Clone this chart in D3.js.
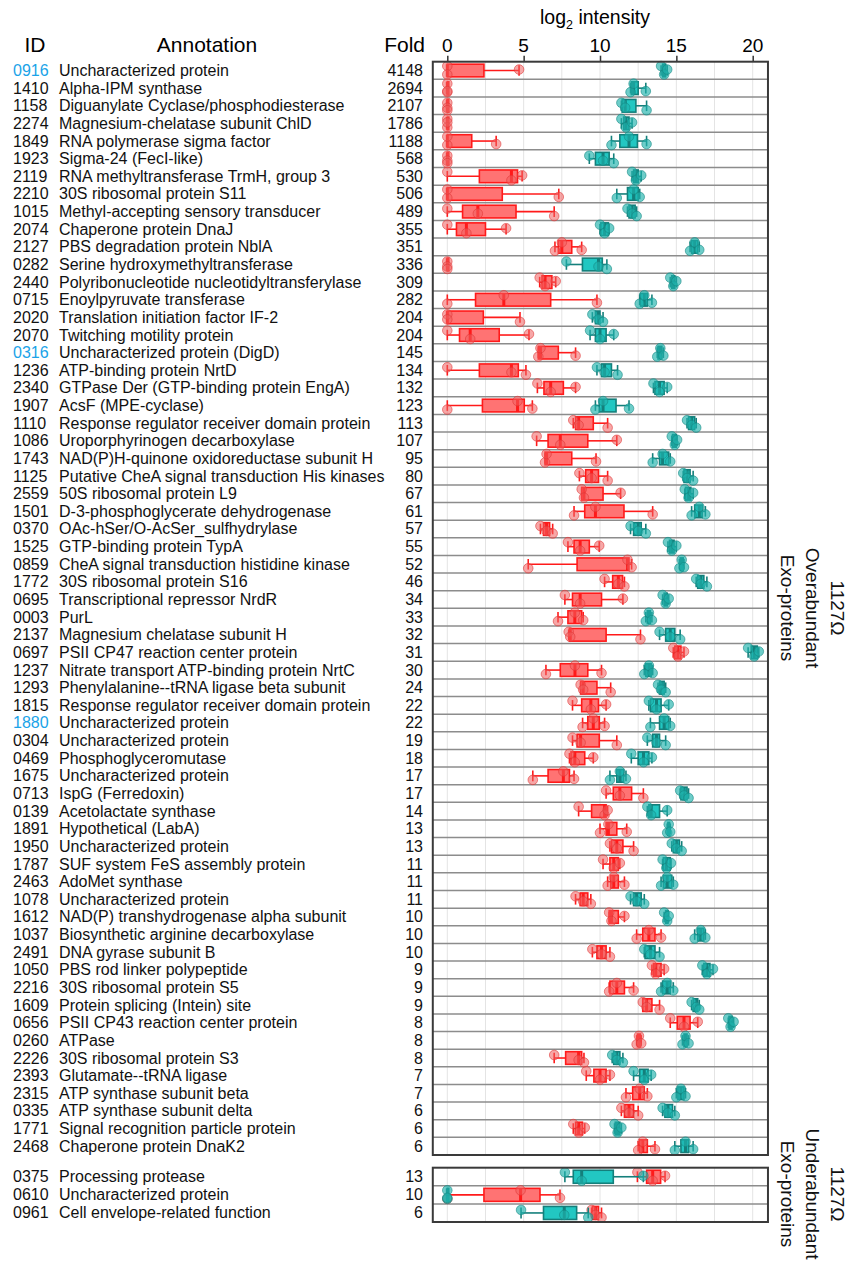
<!DOCTYPE html>
<html>
<head>
<meta charset="utf-8">
<script src="https://cdn.jsdelivr.net/npm/d3@7"></script>
<style>
  body { margin: 0; background: #fff; }
  svg { font-family: Arial, "Liberation Sans", sans-serif; }
</style>
</head>
<body>
<svg id="chart" width="850" height="1265"></svg>
<script>
// over-abundant exo-proteins (top panel)
const ids = ['0916','1410','1158','2274','1849','1923','2119','2210','1015','2074','2127','0282','2440','0715','2020','2070','0316','1236','2340','1907','1110','1086','1743','1125','2559','1501','0370','1525','0859','1772','0695','0003','2137','0697','1237','1293','1815','1880','0304','0469','1675','0713','0139','1891','1950','1787','2463','1078','1612','1037','2491','1050','2216','1609','0656','0260','2226','2393','2315','0335','1771','2468']
const annotations = ['Uncharacterized protein','Alpha-IPM synthase','Diguanylate Cyclase/phosphodiesterase','Magnesium-chelatase subunit ChlD','RNA polymerase sigma factor','Sigma-24 (FecI-like)','RNA methyltransferase TrmH, group 3','30S ribosomal protein S11','Methyl-accepting sensory transducer','Chaperone protein DnaJ','PBS degradation protein NblA','Serine hydroxymethyltransferase','Polyribonucleotide nucleotidyltransferylase','Enoylpyruvate transferase','Translation initiation factor IF-2','Twitching motility protein','Uncharacterized protein (DigD)','ATP-binding protein NrtD','GTPase Der (GTP-binding protein EngA)','AcsF (MPE-cyclase)','Response regulator receiver domain protein','Uroporphyrinogen decarboxylase','NAD(P)H-quinone oxidoreductase subunit H','Putative CheA signal transduction His kinases','50S ribosomal protein L9','D-3-phosphoglycerate dehydrogenase','OAc-hSer/O-AcSer_sulfhydrylase','GTP-binding protein TypA','CheA signal transduction histidine kinase','30S ribosomal protein S16','Transcriptional repressor NrdR','PurL','Magnesium chelatase subunit H','PSII CP47 reaction center protein','Nitrate transport ATP-binding protein NrtC','Phenylalanine--tRNA ligase beta subunit','Response regulator receiver domain protein','Uncharacterized protein','Uncharacterized protein','Phosphoglyceromutase','Uncharacterized protein','IspG (Ferredoxin)','Acetolactate synthase','Hypothetical (LabA)','Uncharacterized protein','SUF system FeS assembly protein','AdoMet synthase','Uncharacterized protein','NAD(P) transhydrogenase alpha subunit','Biosynthetic arginine decarboxylase','DNA gyrase subunit B','PBS rod linker polypeptide','30S ribosomal protein S5','Protein splicing (Intein) site','PSII CP43 reaction center protein','ATPase','30S ribosomal protein S3','Glutamate--tRNA ligase','ATP synthase subunit beta','ATP synthase subunit delta','Signal recognition particle protein','Chaperone protein DnaK2']
const folds = [4148,2694,2107,1786,1188,568,530,506,489,355,351,336,309,282,204,204,145,134,132,123,113,107,95,80,67,61,57,55,52,46,34,33,32,31,30,24,22,22,19,18,17,17,14,13,13,11,11,11,10,10,10,9,9,9,8,8,8,7,7,6,6,6]

// [min, q1, median, q3, max] log2 intensity
const redStats = [
  [0,0,0,2.4,4.7],[0,0,0,0,0],[0,0,0,0,0],[0,0,0,0,0],[0,0,0,1.6,3.2],
  [0,0,0,0,0],[0,2.1,4.2,4.6,4.9],[0,0,0,3.6,7.3],[0,1.0,2.0,4.5,7.0],[0,0.6,1.25,2.5,3.85],
  [7.05,7.27,7.5,8.15,8.8],[0,0,0,0,0],[6.05,6.2,6.4,6.85,7.1],[0,1.85,3.7,6.77,9.8],[0,0,0,2.36,4.76],
  [0,0.8,1.5,3.4,5.35],[5.96,5.96,6.1,7.27,8.4],[0,2.1,4.2,4.65,5.15],[5.9,6.33,6.77,7.6,8.4],[0,2.3,4.6,5.04,5.57],
  [8.25,8.4,8.6,9.56,10.5],[5.85,6.6,7.4,9.2,11.1],[6.4,6.4,6.5,8.15,9.74],[8.65,9.06,9.45,9.9,10.5],[8.8,8.8,8.95,10.2,11.35],
  [8.3,9.0,9.7,11.57,13.45],[6.1,6.3,6.5,6.7,6.9],[7.9,8.3,8.7,9.3,9.95],[5.3,8.5,11.8,11.9,12.07],[10.3,10.83,11.2,11.48,11.6],
  [7.7,8.2,8.7,10.1,11.5],[7.25,7.9,8.35,8.8,8.9],[7.95,8.0,8.05,10.4,12.65],[14.8,14.9,15.1,15.3,15.5],[6.46,7.4,8.36,9.2,10.1],
  [8.73,8.73,8.9,9.8,10.7],[8.2,8.8,9.4,9.9,10.4],[8.86,9.2,9.56,9.95,10.3],[8.2,8.5,8.73,9.95,11.1],[8.0,8.1,8.35,9.0,9.56],
  [5.6,6.6,7.6,8.0,8.3],[10.4,10.87,11.3,12.07,12.84],[8.6,9.45,10.3,10.4,10.5],[10.0,10.4,10.55,11.1,11.75],[10.65,10.75,11.1,11.5,12.2],
  [10.2,10.65,10.9,11.2,11.3],[10.5,10.7,10.9,11.2,11.6],[8.4,8.7,8.9,9.2,9.4],[10.6,10.6,10.75,11.2,11.6],[12.4,12.8,13.2,13.6,14.0],
  [9.5,9.8,10.1,10.4,10.65],[13.4,13.5,13.65,14.0,14.2],[10.6,10.65,11.1,11.6,12.2],[12.8,12.8,13.05,13.4,13.9],[14.6,15.06,15.5,15.9,16.4],
  [12.4,12.45,12.55,12.65,12.7],[7.0,7.75,8.6,8.8,8.95],[9.1,9.6,10.0,10.4,10.65],[11.7,12.14,12.6,12.9,13.1],[11.4,11.6,11.9,12.2,12.5],
  [8.25,8.4,8.6,8.85,9.0],[12.5,12.6,12.8,13.1,13.6]
]
const tealStats = [
  [14.0,14.1,14.2,14.3,14.4],[12.0,12.05,12.2,12.5,13.0],[11.4,11.45,11.65,12.35,13.05],[11.4,11.55,11.7,11.9,12.1],[10.75,11.3,11.9,12.45,13.05],
  [9.3,9.7,10.2,10.6,10.9],[12.1,12.2,12.35,12.5,12.7],[11.1,11.8,12.2,12.5,12.6],[11.8,11.9,12.1,12.3,12.4],[10.0,10.05,10.3,10.55,10.6],
  [15.9,16.0,16.2,16.4,16.5],[7.8,8.85,9.9,10.15,10.45],[14.6,14.7,14.8,14.9,15.0],[12.6,12.65,12.9,13.1,13.4],[9.5,9.7,9.9,10.0,10.2],
  [9.35,9.7,10.0,10.4,10.9],[13.75,13.8,13.95,14.05,14.15],[9.8,10.1,10.3,10.75,11.15],[13.5,13.6,13.9,14.2,14.4],[9.7,9.95,10.2,11.05,11.9],
  [15.7,15.8,16.0,16.2,16.3],[14.7,14.75,14.9,15.0,15.05],[13.45,13.9,14.1,14.5,14.6],[15.45,15.5,15.7,15.9,16.1],[15.55,15.6,15.8,15.95,16.1],
  [16.0,16.2,16.5,16.7,16.9],[12.0,12.2,12.5,12.7,13.0],[14.45,14.55,14.7,14.85,15.0],[15.2,15.25,15.35,15.45,15.5],[16.3,16.4,16.6,16.8,17.0],
  [14.1,14.2,14.3,14.4,14.5],[13.0,13.1,13.2,13.3,13.4],[13.9,14.3,14.6,14.9,15.25],[19.7,19.9,20.1,20.3,20.4],[12.9,13.0,13.2,13.35,13.45],
  [13.8,13.9,14.0,14.2,14.3],[13.2,13.3,13.7,14.0,14.5],[13.3,13.9,14.2,14.5,14.6],[13.1,13.45,13.7,13.9,14.3],[12.05,12.5,12.85,13.2,13.4],
  [10.65,11.1,11.3,11.55,11.7],[15.25,15.3,15.5,15.7,15.8],[13.1,13.2,13.35,13.9,14.4],[14.4,14.45,14.5,14.55,14.6],[14.7,14.8,15.0,15.2,15.35],
  [14.1,14.15,14.35,14.6,14.65],[14.0,14.15,14.4,14.7,14.8],[12.0,12.2,12.4,12.7,12.9],[14.2,14.3,14.4,14.45,14.5],[16.2,16.4,16.6,16.8,16.9],
  [12.9,12.95,13.3,13.6,13.9],[16.7,16.8,17.0,17.2,17.4],[14.0,14.1,14.4,14.6,14.8],[16.0,16.1,16.3,16.4,16.5],[18.4,18.45,18.55,18.65,18.75],
  [15.4,15.5,15.6,15.7,15.8],[10.8,10.9,11.1,11.3,11.5],[12.2,12.6,12.9,13.15,13.35],[15.0,15.1,15.3,15.5,15.6],[14.1,14.25,14.45,14.75,14.9],
  [10.95,11.0,11.15,11.3,11.4],[14.9,15.3,15.6,15.8,16.1]
]

// under-abundant exo-proteins (bottom panel)
const underIds = ['0375','0610','0961']
const underAnnotations = ['Processing protease','Uncharacterized protein','Cell envelope-related function']
const underFolds = [13,10,6]
const underRed = [[12.45,13.05,13.45,13.97,14.26],[0,2.4,4.8,6.07,7.38],[9.45,9.5,9.7,9.9,10.1]]
const underTeal = [[7.7,8.25,8.8,10.87,12.84],[0,0,0,0,0],[4.83,6.3,7.66,8.47,9.23]]

const blueIds = ['0916','0316','1880']
const xTicks = [0,5,10,15,20]

const svg = d3.select('#chart')
const x = d3.scaleLinear().domain([0, 20]).range([447.3, 752.7])
const frameL = x(-0.95), frameR = x(21)

const topRows = d3.range(ids.length)
const yTop = d3.scaleBand().domain(topRows).range([61.7, 1155])
const botRows = d3.range(underIds.length)
const yBot = d3.scaleBand().domain(botRows).range([1167.7, 1222])

const red = { fill: '#ff7373', stroke: '#ff1a1a', dot: 'rgba(240,95,95,0.55)', dotStroke: 'rgba(225,55,55,0.65)' }
const teal = { fill: '#22c7c2', stroke: '#147f7b', dot: 'rgba(30,178,172,0.65)', dotStroke: 'rgba(20,135,130,0.65)' }

// header
const title = svg.append('text')
  .attr('x', 595).attr('y', 24)
  .attr('text-anchor', 'middle')
  .attr('font-size', 19.5)
title.append('tspan').text('log')
title.append('tspan').attr('font-size', 12.5).attr('dy', 5).text('2')
title.append('tspan').attr('dy', -5).text(' intensity')

svg.append('text').attr('x', 35).attr('y', 52).attr('text-anchor', 'middle')
  .attr('font-size', 21).text('ID')
svg.append('text').attr('x', 207).attr('y', 52).attr('text-anchor', 'middle')
  .attr('font-size', 21).text('Annotation')
svg.append('text').attr('x', 425).attr('y', 52).attr('text-anchor', 'end')
  .attr('font-size', 21).text('Fold')

svg.selectAll('.xtick-label')
  .data(xTicks)
  .join('text')
  .attr('x', d => x(d)).attr('y', 52)
  .attr('text-anchor', 'middle')
  .attr('font-size', 19)
  .text(d => d)

svg.append('g')
  .attr('transform', `translate(0,${yTop.range()[0]})`)
  .call(d3.axisTop(x).tickValues(xTicks).tickSize(6).tickFormat(''))
  .call(g => g.select('.domain').remove())
  .call(g => g.selectAll('.tick line').attr('stroke', '#333').attr('stroke-width', 1.5))

function drawPanel(yScale, rows, idList, annList, foldList, redList, tealList) {
  const g = svg.append('g')
  const [y0, y1] = yScale.range()
  const bw = yScale.bandwidth()

  // vertical grid
  g.selectAll('.grid')
    .data(d3.range(0, 20.1, 2.5))
    .join('line')
    .attr('x1', d => x(d)).attr('x2', d => x(d))
    .attr('y1', y0).attr('y2', y1)
    .attr('stroke', '#e4e4e4').attr('stroke-width', 1)

  // row separators
  g.selectAll('.sep')
    .data(rows.slice(1))
    .join('line')
    .attr('x1', frameL).attr('x2', frameR)
    .attr('y1', d => yScale(d)).attr('y2', d => yScale(d))
    .attr('stroke', '#8c8c8c').attr('stroke-width', 1.5)

  // labels
  const cy = i => yScale(i) + bw / 2
  g.selectAll('.id')
    .data(rows)
    .join('text')
    .attr('x', 13).attr('y', i => cy(i) + 5.5)
    .attr('font-size', 16)
    .attr('fill', i => blueIds.includes(idList[i]) ? '#1aa3e8' : '#111')
    .text(i => idList[i])
  g.selectAll('.ann')
    .data(rows)
    .join('text')
    .attr('x', 59).attr('y', i => cy(i) + 5.5)
    .attr('font-size', 16).attr('fill', '#111')
    .text(i => annList[i])
  g.selectAll('.fold')
    .data(rows)
    .join('text')
    .attr('x', 423).attr('y', i => cy(i) + 5.5)
    .attr('text-anchor', 'end')
    .attr('font-size', 16).attr('fill', '#111')
    .text(i => foldList[i])

  const boxH = bw * 0.72
  const capH = bw * 0.6
  const jitter = [[-4.5, 4, -1], [4, -4.5, 3], [-3, 2, 4.5]]

  function boxes(stats, c) {
    const bg = g.append('g')
    rows.forEach(i => {
      const [lo, q1, med, q3, hi] = stats[i]
      const yc = cy(i)
      bg.append('line')
        .attr('x1', x(lo)).attr('x2', x(q1)).attr('y1', yc).attr('y2', yc)
        .attr('stroke', c.stroke).attr('stroke-width', 1.6)
      bg.append('line')
        .attr('x1', x(q3)).attr('x2', x(hi)).attr('y1', yc).attr('y2', yc)
        .attr('stroke', c.stroke).attr('stroke-width', 1.6)
      ;[lo, hi].forEach(v => bg.append('line')
        .attr('x1', x(v)).attr('x2', x(v))
        .attr('y1', yc - capH / 2).attr('y2', yc + capH / 2)
        .attr('stroke', c.stroke).attr('stroke-width', 1.6))
      bg.append('rect')
        .attr('x', x(q1)).attr('y', yc - boxH / 2)
        .attr('width', Math.max(x(q3) - x(q1), 1.5)).attr('height', boxH)
        .attr('fill', c.fill).attr('stroke', c.stroke).attr('stroke-width', 1.6)
      bg.append('line')
        .attr('x1', x(med)).attr('x2', x(med))
        .attr('y1', yc - boxH / 2).attr('y2', yc + boxH / 2)
        .attr('stroke', c.stroke).attr('stroke-width', 3)
    })
  }

  function dots(stats, c) {
    const dg = g.append('g')
    rows.forEach(i => {
      const [lo, , med, , hi] = stats[i]
      const off = jitter[i % 3]
      dg.selectAll(null)
        .data([lo, med, hi])
        .join('circle')
        .attr('cx', d => x(d))
        .attr('cy', (d, k) => cy(i) + off[k])
        .attr('r', 4.8)
        .attr('fill', c.dot).attr('stroke', c.dotStroke).attr('stroke-width', 0.9)
    })
  }

  boxes(redList, red)
  dots(redList, red)
  boxes(tealList, teal)
  dots(tealList, teal)

  // frame
  g.append('rect')
    .attr('x', frameL).attr('y', y0)
    .attr('width', frameR - frameL).attr('height', y1 - y0)
    .attr('fill', 'none').attr('stroke', '#3a3a3a').attr('stroke-width', 2)
}

drawPanel(yTop, topRows, ids, annotations, folds, redStats, tealStats)
drawPanel(yBot, botRows, underIds, underAnnotations, underFolds, underRed, underTeal)

function sideLabel(cyPos, lines) {
  const xs = [838, 813, 788]
  lines.forEach((t, k) => {
    svg.append('text')
      .attr('transform', `translate(${xs[k] - 7},${cyPos}) rotate(90)`)
      .attr('text-anchor', 'middle')
      .attr('font-size', 19).attr('fill', '#111')
      .text(t)
  })
}
sideLabel(608, ['1127Ω', 'Overabundant', 'Exo-proteins'])
sideLabel(1194, ['1127Ω', 'Underabundant', 'Exo-proteins'])
</script>
</body>
</html>
